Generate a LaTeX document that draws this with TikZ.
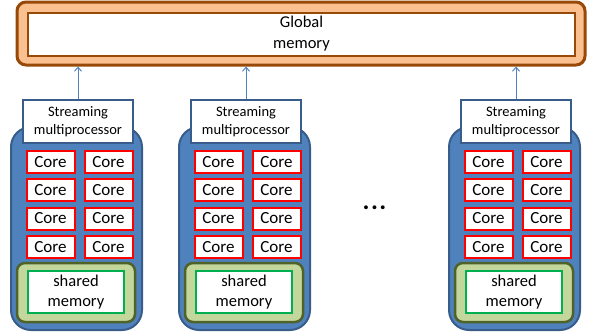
\documentclass[tikz,border=0pt]{standalone}
\usepackage{fontspec}
\setmainfont{Carlito}
\definecolor{smBlue}{HTML}{4F81BD}
\definecolor{smDarkBlue}{HTML}{385D8A}
\definecolor{gmOrange}{HTML}{FAC090}
\definecolor{gmBrown}{HTML}{984807}
\definecolor{shOlive}{HTML}{C3D69B}
\definecolor{shDarkOlive}{HTML}{4F6228}
\definecolor{shGreen}{HTML}{00B050}
\usetikzlibrary{positioning,arrows.meta,calc}

\begin{document}
\begin{tikzpicture}[x=1pt, y=-1pt, inner sep=0pt,
  gouter/.style={draw=gmBrown, line width=3pt, fill=gmOrange, rounded corners=9pt, minimum width=568pt, minimum height=63pt},
  ginner/.style={draw=gmBrown, line width=2pt, fill=white, minimum width=547pt, minimum height=43pt, align=center, font=\fontsize{16.5}{21}\selectfont},
  body/.style={draw=smDarkBlue, line width=2pt, fill=smBlue, rounded corners=20pt, minimum width=131pt, minimum height=203pt},
  title/.style={draw=smDarkBlue, line width=1.5pt, fill=white, minimum width=110pt, minimum height=43pt, align=center, font=\fontsize{14.5}{18}\selectfont},
  core/.style={draw=red, line width=2pt, fill=white, minimum width=48pt, minimum height=22pt, font=\fontsize{17}{19}\selectfont},
  shouter/.style={draw=shDarkOlive, line width=2.5pt, fill=shOlive, rounded corners=8pt, minimum width=118pt, minimum height=59pt},
  shinner/.style={draw=shGreen, line width=2pt, fill=white, minimum width=96pt, minimum height=42pt, align=center, font=\fontsize{16.5}{20}\selectfont},
  link/.style={draw=smBlue, line width=1pt, -{Straight Barb[length=4pt, width=7pt]}}]
\useasboundingbox (0,0) rectangle (592,335);
% global memory
\node[gouter] (gm) at (301,33.5) {};
\node[ginner] (gmi) at (301.5,34) {Global\\memory};
% streaming multiprocessors
\foreach \i/\dx in {1/0, 2/168, 3/438} {
  \begin{scope}[xshift=\dx pt]
    \node[body] (sm\i) at (76.5,228.5) {};
    \node[title] (t\i) at (78,121.5) {Streaming\\multiprocessor};
    \foreach \r/\y in {1/162, 2/190, 3/218.5, 4/247} {
      \node[core] (c\i-\r-1) at (50.5,\y) {Core};
      \node[core] (c\i-\r-2) at (108.5,\y) {Core};
    }
    \node[shouter] (sh\i) at (76,292.5) {};
    \node[shinner] (shi\i) at (76,292) {shared\\memory};
  \end{scope}
  \draw[link] (t\i.north) -- (t\i.north |- gm.south);
}
\node[font=\fontsize{26}{26}\bfseries] (dots) at (374.5,208) {.\hspace{1.5pt}.\hspace{1.5pt}.};
\end{tikzpicture}
\end{document}
